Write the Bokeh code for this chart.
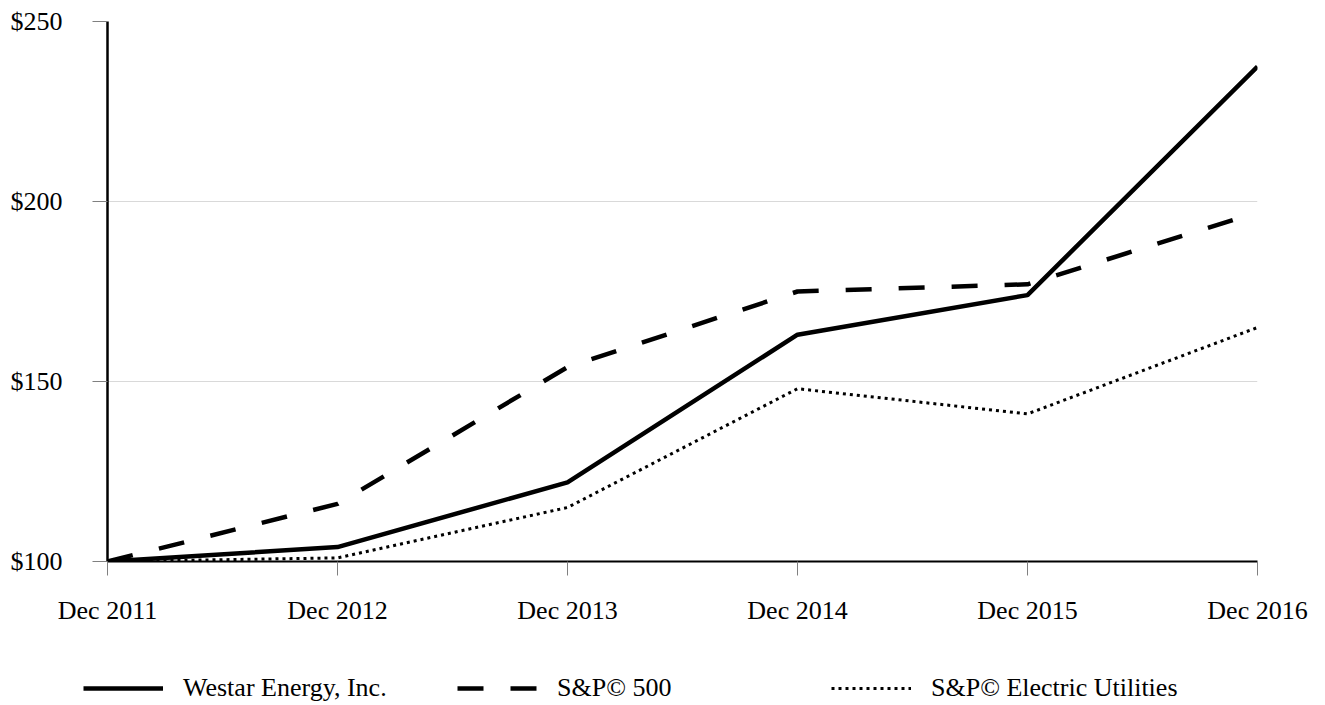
from bokeh.plotting import figure
from bokeh.layouts import column, row
from bokeh.models import Legend, LegendItem, FixedTicker, Range1d
from bokeh.embed import file_html
from bokeh.resources import INLINE

years = ["Dec 2011", "Dec 2012", "Dec 2013", "Dec 2014", "Dec 2015", "Dec 2016"]
westar = [100, 104, 122, 163, 174, 237.5]
sp500 = [100, 116, 154, 175, 177, 197]
utilities = [100, 101, 115, 148, 141, 165]
y_ticks = [100, 150, 200, 250]
y_labels = ["$100", "$150", "$200", "$250"]
series_names = ["Westar Energy, Inc.", "S&P\u00a9 500", "S&P\u00a9 Electric Utilities"]

FONT = "Liberation Serif"
xs = list(range(len(years)))
series = [westar, sp500, utilities]

styles = [dict(line_color="black", line_width=4.5),
          dict(line_color="black", line_width=4.5, line_dash="26 27"),
          dict(line_color="black", line_width=3, line_dash="3 4")]

p = figure(width=1325, height=650, output_backend="svg", toolbar_location=None,
           x_range=Range1d(0, len(years) - 1), y_range=Range1d(100, 250),
           min_border_left=107, min_border_right=68, min_border_top=21, min_border_bottom=89)
p.outline_line_color = None
p.background_fill_color = "white"
p.border_fill_color = "white"

for ys, st in zip(series, styles):
    p.line(xs, ys, **st)

# grid
p.xgrid.grid_line_color = None
p.ygrid.grid_line_color = "#d9d9d9"
p.ygrid.grid_line_width = 1
p.ygrid.ticker = FixedTicker(ticks=y_ticks)

# axes
p.xaxis.ticker = FixedTicker(ticks=xs)
p.xaxis.major_label_overrides = {i: y for i, y in enumerate(years)}
p.yaxis.ticker = FixedTicker(ticks=y_ticks)
p.yaxis.major_label_overrides = {t: l for t, l in zip(y_ticks, y_labels)}
for ax in (p.xaxis, p.yaxis):
    ax.axis_line_color = "black"
    ax.major_tick_line_color = "#808080"
    ax.major_tick_line_width = 1
    ax.major_tick_in = 0
    ax.minor_tick_line_color = None
    ax.major_label_text_font = FONT
    ax.major_label_text_font_size = "26px"
    ax.major_label_text_color = "black"
p.xaxis.axis_line_width = 2
p.yaxis.axis_line_width = 2.5
p.xaxis.major_tick_out = 14
p.yaxis.major_tick_out = 15
p.xaxis.major_label_standoff = 20
p.yaxis.major_label_standoff = 30

# legend strip below the chart (proxy lines lie outside its visible ranges)
lg = figure(width=1325, height=55, output_backend="svg", toolbar_location=None,
            x_axis_type=None, y_axis_type=None,
            x_range=Range1d(-100, -99), y_range=Range1d(0, 1),
            min_border_left=0, min_border_right=0, min_border_top=0, min_border_bottom=0)
lg.outline_line_color = None
lg.grid.grid_line_color = None
lg.background_fill_color = "white"
lg.border_fill_color = "white"
legend_renderers = [lg.line(xs, ys, **st) for ys, st in zip(series, styles)]

legend = Legend(items=[LegendItem(label=n, renderers=[r]) for n, r in zip(series_names, legend_renderers)],
                orientation="horizontal", location=(83, 2),
                glyph_width=80, glyph_height=26, label_height=26,
                label_standoff=20, label_width=240, spacing=34,
                padding=0, margin=0, border_line_alpha=0, background_fill_alpha=0,
                label_text_font=FONT, label_text_font_size="26px", label_text_color="black")
lg.add_layout(legend, "center")

layout = column(p, row(lg, spacing=0), spacing=0)
open("out.html", "w").write(file_html(layout, INLINE))
